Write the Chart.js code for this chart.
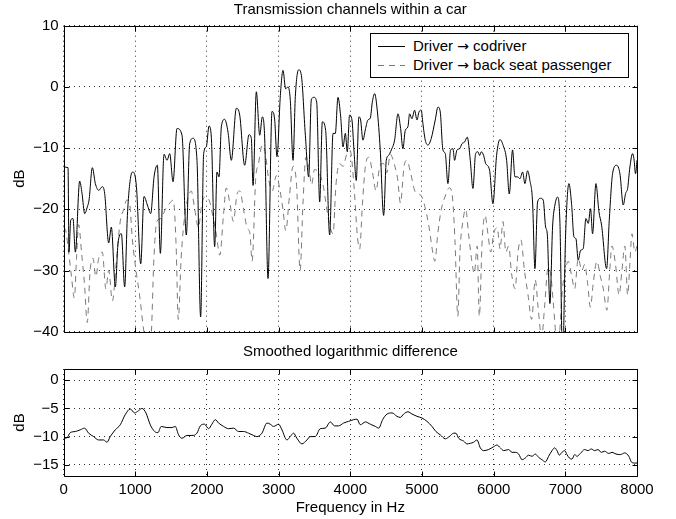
<!DOCTYPE html>
<html>
<head>
<meta charset="utf-8">
<script src="https://cdn.jsdelivr.net/npm/chart.js@4.4.0/dist/chart.umd.min.js"></script>
<style>
  body { margin: 0; background: #fff; }
  #wrap { position: relative; width: 676px; height: 519px; font-family: "Liberation Sans", Arial, sans-serif; }
  #top { position: absolute; left: 0; top: 0; }
  #bottom { position: absolute; left: 0; top: 340px; }
  #legend {
    position: absolute; left: 370px; top: 33px; width: 259px; height: 45px;
    box-sizing: border-box; border: 1px solid #000; background: #fff;
    font-size: 15px; color: #000;
  }
  .row { position: absolute; left: 0; height: 18px; line-height: 18px; white-space: nowrap; }
  .row svg { position: absolute; left: 7px; top: 0; }
  .row span.txt { position: absolute; left: 42px; top: 0; }
  .arrow { font-family: "DejaVu Sans", sans-serif; font-size: 14px; }
</style>
</head>
<body>
<div id="wrap">
  <canvas id="top" width="676" height="350"></canvas>
  <canvas id="bottom" width="676" height="179"></canvas>
  <div id="legend"></div>
</div>
<script>
// Driver -> codriver (solid)
const freqCo = [0, 62, 75, 99, 131, 164, 224, 257, 294, 331, 355, 401, 443, 490, 541, 573, 629, 666, 722, 759,
  806, 852, 890, 936, 969, 1016, 1076, 1122, 1169, 1215, 1262, 1308, 1350, 1401, 1443, 1480, 1527, 1582, 1652, 1712,
  1759, 1806, 1861, 1912, 1954, 1991, 2029, 2061, 2108, 2140, 2168, 2201, 2247, 2294, 2340, 2410, 2457, 2526, 2587, 2619,
  2643, 2689, 2736, 2773, 2805, 2852, 2908, 2945, 2977, 3024, 3061, 3098, 3131, 3163, 3201, 3233, 3280, 3317, 3373, 3419,
  3456, 3494, 3531, 3573, 3610, 3656, 3712, 3759, 3791, 3828, 3866, 3898, 3931, 3958, 3990, 4023, 4051, 4083, 4120, 4144,
  4176, 4213, 4246, 4279, 4307, 4339, 4376, 4418, 4465, 4502, 4534, 4572, 4618, 4665, 4702, 4734, 4767, 4804, 4827, 4860,
  4897, 4930, 4958, 4990, 5013, 5046, 5083, 5130, 5185, 5223, 5255, 5292, 5325, 5362, 5399, 5432, 5455, 5488, 5525, 5557,
  5595, 5632, 5674, 5711, 5748, 5781, 5804, 5827, 5860, 5888, 5943, 5990, 6041, 6088, 6134, 6181, 6218, 6264, 6297, 6334,
  6367, 6404, 6436, 6473, 6506, 6543, 6576, 6613, 6655, 6692, 6725, 6748, 6785, 6822, 6855, 6892, 6925, 6962, 7003, 7050,
  7087, 7120, 7148, 7180, 7213, 7250, 7287, 7320, 7352, 7380, 7427, 7469, 7506, 7576, 7613, 7659, 7715, 7762, 7808, 7841,
  7869, 7901, 7938, 7957, 7980, 8000];
const dbCo = [-13.1, -13.2, -27, -21.8, -21.5, -27, -15.4, -17.4, -20.7, -19.6, -18.5, -13.2, -15.8, -16.9, -16.3, -17.4, -25.5, -22.9, -32.7, -25.6,
  -24, -32.7, -21, -14.7, -13.9, -16.3, -28.9, -17.9, -19.3, -20.7, -14.7, -12.8, -27.2, -11, -12, -10.9, -15.5, -6.8, -7.9, -24.2,
  -9.3, -8.4, -12, -37.6, -10.9, -9.8, -6.4, -8.2, -26.1, -13.9, -14.7, -6.5, -5.3, -7.4, -12, -3.5, -4.6, -12.8, -7.8, -8.4,
  -16.1, -0.8, -7.9, -4.9, -8.2, -31.3, -4, -5.4, -11.4, -1.4, 2.7, -0.3, 0, -2.2, -12, -1.6, 2.8, 1.9, -7.9, -14.7,
  -2.1, -1.7, -2.5, -18.8, -5.7, -7.1, -24.2, -7.6, -7.6, -1.7, -4.9, -9.8, -7.6, -10.6, -4.6, -5.4, -10.3, -15.3, -4.9, -5.4,
  -8.7, -6.8, -5.4, -5.1, -2.5, -1.1, -3.8, -10.3, -21, -12, -11.2, -10.3, -8.7, -4.4, -6.8, -10.1, -7.1, -6.5, -4.4, -5.2,
  -3.8, -5.4, -4.1, -3.8, -6, -8.7, -9.5, -8.4, -5.4, -3.3, -4.1, -10.3, -10.9, -15.8, -10.3, -10.1, -12, -10.3, -10.1, -9.3,
  -9, -8.2, -12, -16.6, -10.9, -10.6, -11.2, -10.6, -11.2, -12.5, -13.6, -19.1, -11.2, -8.6, -9.6, -12, -17.5, -10.3, -14.7, -14.7,
  -15, -13.9, -15.8, -13.7, -15.3, -18.8, -29.7, -18.8, -18.2, -18.5, -22.9, -24, -35.4, -22.9, -19.3, -18, -22.3, -45, -24.5, -15.8,
  -19.1, -24.5, -24.8, -28.3, -26.7, -26.4, -21.5, -22.3, -19.9, -24, -15.8, -20.4, -22.6, -29.7, -21.8, -14.2, -12.8, -14.2, -19.3, -17.4,
  -16.6, -13.1, -10.9, -11.7, -14.2, -12];

// Driver -> back seat passenger (dashed)
const freqBack = [0, 30, 70, 110, 150, 180, 210, 250, 290, 330, 370, 410, 450, 490, 540, 590, 630, 680, 740, 790,
  840, 880, 920, 960, 1010, 1060, 1120, 1170, 1220, 1260, 1300, 1360, 1420, 1480, 1530, 1570, 1600, 1640, 1690, 1740,
  1780, 1830, 1880, 1930, 1970, 2030, 2080, 2130, 2180, 2230, 2270, 2320, 2370, 2420, 2460, 2510, 2560, 2600, 2630, 2680,
  2720, 2770, 2810, 2860, 2910, 2970, 3020, 3060, 3100, 3150, 3200, 3250, 3300, 3340, 3380, 3420, 3460, 3500, 3560, 3620,
  3660, 3710, 3760, 3800, 3850, 3900, 3950, 4000, 4050, 4100, 4130, 4170, 4210, 4260, 4310, 4360, 4410, 4460, 4510, 4560,
  4610, 4660, 4700, 4750, 4790, 4840, 4900, 4950, 5000, 5050, 5100, 5150, 5180, 5220, 5270, 5320, 5380, 5420, 5460, 5500,
  5530, 5570, 5610, 5650, 5690, 5730, 5770, 5800, 5840, 5880, 5920, 5960, 6000, 6050, 6090, 6130, 6170, 6210, 6250, 6300,
  6340, 6380, 6430, 6480, 6530, 6580, 6620, 6670, 6710, 6760, 6800, 6830, 6880, 6920, 6960, 7000, 7040, 7090, 7130, 7180,
  7230, 7270, 7310, 7350, 7390, 7440, 7490, 7530, 7580, 7620, 7650, 7700, 7750, 7790, 7830, 7870, 7900, 7930, 7970, 8000];
const dbBack = [-23, -23.5, -27, -31, -34.5, -28, -22.5, -27, -32, -38.5, -30, -28, -31, -28, -27, -33, -30, -35, -28, -22,
  -20, -18.5, -19, -25, -30, -34, -40, -43, -41, -28, -22, -21.5, -20, -19, -18.5, -26, -38, -28, -21, -18,
  -17, -20, -23, -19, -18, -18.5, -21, -24, -27.5, -21, -16.5, -19, -22, -17.5, -17, -20, -23, -24, -28.5, -15,
  -12.5, -9.5, -10.5, -15, -17, -14.5, -17, -20, -23.5, -18, -13, -16, -30, -19, -11.5, -13, -16, -13.5, -14, -16,
  -19, -22.5, -24, -16, -12.5, -13, -11, -10.5, -16, -24.5, -26.5, -19, -13, -11.5, -14, -17, -13, -12.5, -14, -11,
  -12.5, -15, -19, -13, -12, -14, -17, -17.5, -18, -20, -23, -27, -28.5, -24, -20, -18, -16.5, -17.5, -25, -37.5,
  -27, -22, -20, -24, -28, -30.5, -26, -37.5, -25, -21, -24, -27, -24, -23, -26.5, -22, -27, -26, -30.5, -33,
  -27, -25, -30, -34, -38, -31.5, -36, -41, -36, -29.5, -31, -35, -41, -40, -33, -30, -28.5, -31, -33, -28,
  -30, -29, -32, -36, -32, -28.5, -31, -33, -36.5, -30, -26, -29, -34, -30, -26, -34, -29, -24, -27, -26];

// smoothed logarithmic difference
const freqDiff = [0, 47, 93, 163, 233, 293, 349, 419, 488, 558, 605, 651, 721, 791, 860, 930, 991, 1046, 1093, 1149,
  1209, 1270, 1316, 1362, 1442, 1511, 1558, 1604, 1651, 1721, 1790, 1860, 1907, 1967, 2023, 2069, 2116, 2163, 2232, 2302,
  2372, 2441, 2511, 2581, 2651, 2697, 2767, 2837, 2883, 2930, 3000, 3046, 3116, 3162, 3209, 3255, 3325, 3395, 3441, 3511,
  3581, 3651, 3721, 3781, 3837, 3906, 3976, 4046, 4093, 4140, 4210, 4279, 4349, 4396, 4451, 4512, 4582, 4651, 4698, 4744,
  4805, 4861, 4930, 5000, 5070, 5140, 5195, 5256, 5326, 5381, 5442, 5474, 5512, 5581, 5628, 5674, 5721, 5767, 5814, 5860,
  5930, 6000, 6046, 6093, 6140, 6209, 6256, 6302, 6349, 6395, 6442, 6488, 6535, 6581, 6628, 6674, 6721, 6767, 6814, 6851,
  6884, 6916, 6953, 6991, 7023, 7056, 7093, 7130, 7163, 7209, 7270, 7316, 7363, 7409, 7456, 7502, 7549, 7605, 7651, 7707,
  7768, 7828, 7886, 7921, 7967, 8000];
const dbDiff = [-10.3, -10.2, -9.3, -9.1, -8.8, -8.5, -9.4, -10, -10.6, -10.6, -11, -10, -8.8, -7.9, -6.1, -5.1, -5.8, -5.4, -5, -5.8,
  -7.9, -9.1, -9.3, -8.2, -8.4, -8.4, -8.2, -9.7, -10.3, -9.8, -9.8, -9.4, -8.1, -7.8, -8.6, -7.8, -7, -7.6, -8.2, -8.6,
  -8.5, -9.1, -9.1, -9.4, -9.8, -10, -9.4, -7.6, -7.8, -8.2, -7.8, -8.8, -10.6, -10, -9.4, -10.3, -11.3, -10.6, -10, -10,
  -8.6, -8.5, -7.4, -8.1, -8.1, -7.6, -7.3, -7, -6.9, -7.9, -7.4, -7.8, -8.2, -8.5, -7, -6, -5.8, -6.4, -6.6, -6,
  -5.6, -6, -6.4, -6.7, -7.3, -8.2, -9.1, -9.7, -10.4, -10, -9.4, -9.4, -10.3, -10.8, -11.3, -11.2, -11, -10.6, -12, -12.5,
  -12.3, -11.8, -11.5, -12, -12.5, -12.3, -12.8, -12.8, -13.1, -14.1, -13.8, -13.3, -13.5, -13.1, -13.7, -14.1, -14.5, -13.5, -12.5, -12,
  -12.5, -13.3, -12.8, -12.5, -13.2, -13.8, -14, -13.2, -13.5, -13, -12.3, -12.5, -12.2, -12.5, -12.3, -12.8, -12.6, -13, -12.8, -13.1,
  -13.2, -12.9, -13.5, -14.5, -14.7, -14.7];

const xTicks = [0, 1000, 2000, 3000, 4000, 5000, 6000, 7000, 8000];
const yTicksTop = [-40, -30, -20, -10, 0, 10];
const yTicksBottom = [-15, -10, -5, 0];
const labelCo = "Driver \u2192 codriver";
const labelBack = "Driver \u2192 back seat passenger";

Chart.defaults.font.family = "'Liberation Sans', Arial, sans-serif";
Chart.defaults.font.size = 15;
Chart.defaults.color = "#000";

function toPoints(xs, ys) {
  return xs.map((x, i) => ({ x: x, y: ys[i] }));
}

function minus(v) {
  return String(v).replace("-", "\u2212");
}

// closed box + inward ticks like matlab axes
const boxPlugin = {
  id: "boxPlugin",
  afterDatasetsDraw(chart) {
    const { ctx, chartArea: a, scales } = chart;
    const L = Math.round(a.left) + 0.5, R = Math.round(a.right) + 0.5;
    const T = Math.round(a.top) + 0.5, B = Math.round(a.bottom) + 0.5;
    const tl = 5;
    ctx.save();
    ctx.strokeStyle = "#000";
    ctx.lineWidth = 1;
    ctx.setLineDash([]);
    ctx.beginPath();
    ctx.rect(L, T, R - L, B - T);
    scales.x.ticks.forEach((t) => {
      const px = Math.round(scales.x.getPixelForValue(t.value)) + 0.5;
      ctx.moveTo(px, B); ctx.lineTo(px, B - tl);
      ctx.moveTo(px, T); ctx.lineTo(px, T + tl);
    });
    scales.y.ticks.forEach((t) => {
      const py = Math.round(scales.y.getPixelForValue(t.value)) + 0.5;
      ctx.moveTo(L, py); ctx.lineTo(L + tl, py);
      ctx.moveTo(R, py); ctx.lineTo(R - tl, py);
    });
    ctx.stroke();
    ctx.restore();
  }
};

const dotted = { display: false, dash: [1, 4] };
const grid = { color: "#333", lineWidth: 1, drawTicks: false };

function xScale(showLabels) {
  return {
    type: "linear", min: 0, max: 8000,
    afterBuildTicks: (s) => { s.ticks = xTicks.map((v) => ({ value: v })); },
    ticks: { display: showLabels, padding: 5, maxRotation: 0, callback: (v) => String(v) },
    grid: grid,
    border: dotted,
    title: { display: showLabels, text: "Frequency in Hz", padding: { top: 0, bottom: 2 } },
    afterFit: (s) => { s.height = showLabels ? 43 : 0; }
  };
}

function yScale(min, max, ticks) {
  return {
    type: "linear", min: min, max: max,
    afterBuildTicks: (s) => { s.ticks = ticks.map((v) => ({ value: v })); },
    ticks: { padding: 5, callback: (v) => minus(v) },
    grid: grid,
    border: dotted,
    title: { display: true, text: "dB", padding: { top: 11, bottom: 0 } },
    afterFit: (s) => { s.width = 63.6; }
  };
}

const topChart = new Chart(document.getElementById("top"), {
  type: "line",
  data: {
    datasets: [
      {
        label: labelCo,
        data: toPoints(freqCo, dbCo),
        borderColor: "#000",
        borderWidth: 1,
        pointRadius: 0,
        cubicInterpolationMode: "monotone"
      },
      {
        label: labelBack,
        data: toPoints(freqBack, dbBack),
        borderColor: "#7a7a7a",
        borderWidth: 1,
        borderDash: [6, 5],
        pointRadius: 0,
        cubicInterpolationMode: "monotone"
      }
    ]
  },
  options: {
    responsive: false,
    animation: false,
    layout: { padding: { left: 0, right: 39, top: 0, bottom: 18.3 } },
    plugins: {
      legend: { display: false },
      tooltip: { enabled: false },
      title: {
        display: true, text: "Transmission channels within a car", fullSize: false,
        font: { size: 15, weight: "normal" }, color: "#000",
        padding: { top: 1, bottom: 6.7 }
      }
    },
    scales: { x: xScale(false), y: yScale(-40, 10, yTicksTop) }
  },
  plugins: [boxPlugin]
});

const bottomChart = new Chart(document.getElementById("bottom"), {
  type: "line",
  data: {
    datasets: [
      {
        label: "difference",
        data: toPoints(freqDiff, dbDiff),
        borderColor: "#000",
        borderWidth: 1,
        pointRadius: 0,
        cubicInterpolationMode: "monotone"
      }
    ]
  },
  options: {
    responsive: false,
    animation: false,
    layout: { padding: { left: 0, right: 39, top: 0, bottom: 0 } },
    plugins: {
      legend: { display: false },
      tooltip: { enabled: false },
      title: {
        display: true, text: "Smoothed logarithmic difference", fullSize: false,
        font: { size: 15, weight: "normal" }, color: "#000",
        padding: { top: 3, bottom: 8 }
      }
    },
    scales: { x: xScale(true), y: yScale(-17, 2, yTicksBottom) }
  },
  plugins: [boxPlugin]
});

// legend as html, built from the dataset styles
const legend = document.getElementById("legend");
topChart.data.datasets.forEach((ds, i) => {
  const row = document.createElement("div");
  row.className = "row";
  row.style.top = (3 + i * 19) + "px";
  const dash = ds.borderDash ? ds.borderDash.join(",") : "none";
  row.innerHTML = '<svg width="28" height="18"><line x1="0" y1="9.5" x2="27" y2="9.5" stroke="' +
    ds.borderColor + '" stroke-width="1" stroke-dasharray="' + dash + '"/></svg>';
  const span = document.createElement("span");
  span.className = "txt";
  const parts = ds.label.split("\u2192");
  span.appendChild(document.createTextNode(parts[0]));
  const arrow = document.createElement("span");
  arrow.className = "arrow";
  arrow.textContent = "\u2192";
  span.appendChild(arrow);
  span.appendChild(document.createTextNode(parts[1]));
  row.appendChild(span);
  legend.appendChild(row);
});
</script>
</body>
</html>
